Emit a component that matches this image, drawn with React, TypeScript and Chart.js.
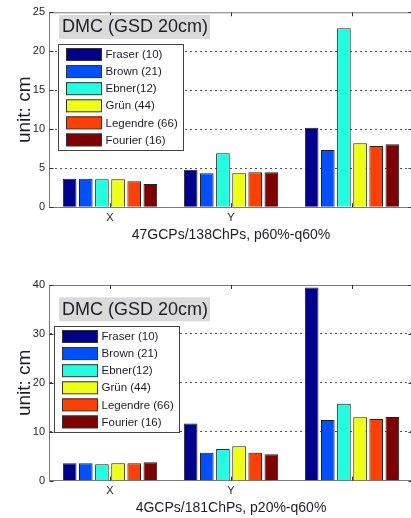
import React, { useEffect, useRef } from 'react';
import { Chart, registerables } from 'chart.js';

Chart.register(...registerables);

const categories = ['X', 'Y', ''];
const seriesLabels = ['Fraser (10)', 'Brown (21)', 'Ebner(12)', 'Grün (44)', 'Legendre (66)', 'Fourier (16)'];
const seriesColors = ['#00008F', '#0050FF', '#20FFDF', '#EFFF10', '#FF4000', '#800000'];

// Top panel: 47GCPs/138ChPs, p60%-q60%
const fraserTop = [3.67, 4.82, 10.2];
const brownTop = [3.67, 4.36, 7.35];
const ebnerTop = [3.59, 6.92, 22.95];
const grunTop = [3.59, 4.36, 8.2];
const legendreTop = [3.33, 4.49, 7.86];
const fourierTop = [2.99, 4.49, 8.08];

// Bottom panel: 4GCPs/181ChPs, p20%-q60%
const fraserBottom = [3.56, 11.7, 39.5];
const brownBottom = [3.56, 5.73, 12.4];
const ebnerBottom = [3.36, 6.48, 15.75];
const grunBottom = [3.56, 7.03, 12.96];
const legendreBottom = [3.56, 5.73, 12.6];
const fourierBottom = [3.76, 5.4, 13.0];

const topSeries = [fraserTop, brownTop, ebnerTop, grunTop, legendreTop, fourierTop];
const bottomSeries = [fraserBottom, brownBottom, ebnerBottom, grunBottom, legendreBottom, fourierBottom];

const topXTitle = '47GCPs/138ChPs, p60%-q60%';
const bottomXTitle = '4GCPs/181ChPs, p20%-q60%';
const yTitle = 'unit: cm';
const panelTitle = 'DMC (GSD 20cm)';

const FONT = "'Liberation Sans', Arial, sans-serif";
const AXIS_COLOR = '#7a7a7a';
const TEXT_COLOR = '#1e1e28';

type PanelProps = {
  series: number[][];
  yMax: number;
  yStep: number;
  xTitle: string;
  padTop: number;
  xAxisHeight: number;
  xTitlePadBottom: number;
  titleBox: { dx: number; dy: number };
  legendBox: { dx: number; dy: number };
};

const W = 425;
const H = 259;

function Panel(props: PanelProps) {
  const ref = useRef<HTMLCanvasElement | null>(null);
  useEffect(() => {
    const canvas = ref.current;
    if (!canvas) return;
    const overlay = {
      id: 'matlabOverlay',
      afterDraw(chart: any) {
        const { ctx, chartArea: a, scales } = chart;
        const y = scales.y;
        const x = scales.x;
        ctx.save();
        // frame top & right
        ctx.strokeStyle = AXIS_COLOR;
        ctx.lineWidth = 1;
        ctx.beginPath();
        ctx.moveTo(a.left, a.top + 0.5);
        ctx.lineTo(a.right, a.top + 0.5);
        ctx.moveTo(a.right - 0.5, a.top);
        ctx.lineTo(a.right - 0.5, a.bottom);
        ctx.stroke();
        // inward ticks
        ctx.strokeStyle = '#333';
        ctx.beginPath();
        y.ticks.forEach((t: any) => {
          const py = Math.round(y.getPixelForValue(t.value)) + 0.5;
          ctx.moveTo(a.left, py);
          ctx.lineTo(a.left + 4, py);
          ctx.moveTo(a.right, py);
          ctx.lineTo(a.right - 4, py);
        });
        x.ticks.forEach((_t: any, i: number) => {
          const px = Math.round(x.getPixelForTick(i)) + 0.5;
          ctx.moveTo(px, a.top);
          ctx.lineTo(px, a.top + 4);
          ctx.moveTo(px, a.bottom);
          ctx.lineTo(px, a.bottom - 4);
        });
        ctx.stroke();

        // title box
        const tx = a.left + props.titleBox.dx;
        const ty = a.top + props.titleBox.dy;
        ctx.fillStyle = '#dadada';
        ctx.fillRect(tx, ty, 151, 24);
        ctx.fillStyle = TEXT_COLOR;
        ctx.font = `18px ${FONT}`;
        ctx.textBaseline = 'middle';
        ctx.textAlign = 'left';
        ctx.fillText(panelTitle, tx + 3, ty + 12.5);

        // legend box
        const lx = a.left + props.legendBox.dx;
        const ly = a.top + props.legendBox.dy;
        ctx.fillStyle = '#ffffff';
        ctx.fillRect(lx, ly, 125, 106);
        ctx.strokeStyle = '#444';
        ctx.strokeRect(lx + 0.5, ly + 0.5, 125, 106);
        ctx.font = `11.5px ${FONT}`;
        chart.data.datasets.forEach((ds: any, i: number) => {
          const sy = ly + 4 + i * 17.1;
          ctx.fillStyle = ds.backgroundColor;
          ctx.fillRect(lx + 8, sy, 36, 12.5);
          ctx.strokeStyle = '#333';
          ctx.strokeRect(lx + 8.5, sy + 0.5, 35, 12);
          ctx.fillStyle = TEXT_COLOR;
          ctx.fillText(ds.label, lx + 47.5, sy + 7);
        });
        ctx.restore();
      },
    };

    const chart = new Chart(canvas, {
      type: 'bar',
      data: {
        labels: categories,
        datasets: props.series.map((vals, i) => ({
          label: seriesLabels[i],
          data: vals,
          backgroundColor: seriesColors[i],
          borderColor: '#222',
          borderWidth: 1,
          categoryPercentage: 0.8,
          barPercentage: 0.845,
        })),
      },
      options: {
        responsive: false,
        animation: false,
        events: [],
        layout: { padding: { top: props.padTop, right: W - 412.5, left: 0, bottom: 0 } },
        plugins: { legend: { display: false }, tooltip: { enabled: false }, title: { display: false } },
        scales: {
          x: {
            grid: { display: false, drawTicks: false },
            border: { display: true, color: AXIS_COLOR, width: 1 },
            ticks: { font: { family: FONT, size: 11 }, color: TEXT_COLOR, padding: 4 },
            title: {
              display: true,
              text: props.xTitle,
              font: { family: FONT, size: 14 },
              color: TEXT_COLOR,
              padding: { top: 0, bottom: props.xTitlePadBottom },
            },
            afterFit: (s: any) => {
              s.height = props.xAxisHeight;
            },
          },
          y: {
            min: 0,
            max: props.yMax,
            grid: {
              drawTicks: false,
              color: (c: any) =>
                c.tick && (c.tick.value === 0 || c.tick.value === props.yMax) ? 'rgba(0,0,0,0)' : '#555',
            },
            border: { display: true, color: AXIS_COLOR, width: 1, dash: [2, 3] },
            ticks: { stepSize: props.yStep, font: { family: FONT, size: 11 }, color: TEXT_COLOR, padding: 4.5 },
            title: {
              display: true,
              text: yTitle,
              font: { family: FONT, size: 19 },
              color: TEXT_COLOR,
              padding: { top: 13, bottom: 0 },
            },
            afterFit: (s: any) => {
              s.width = 49.5;
            },
          },
        },
      },
      plugins: [overlay],
    } as any);
    return () => chart.destroy();
  }, []);
  return <canvas ref={ref} width={W} height={H} style={{ display: 'block', width: W, height: H }} />;
}

export default function App() {
  return (
    <div
      style={{
        position: 'absolute',
        left: 0,
        top: 0,
        width: 411,
        height: 518,
        overflow: 'hidden',
        background: '#ffffff',
      }}
    >
      <Panel
        series={topSeries}
        yMax={25}
        yStep={5}
        xTitle={topXTitle}
        padTop={12.3}
        xAxisHeight={51.7}
        xTitlePadBottom={15.6}
        titleBox={{ dx: 9.5, dy: 2.7 }}
        legendBox={{ dx: 8.5, dy: 31.7 }}
      />
      <Panel
        series={bottomSeries}
        yMax={40}
        yStep={10}
        xTitle={bottomXTitle}
        padTop={26}
        xAxisHeight={37.3}
        xTitlePadBottom={1}
        titleBox={{ dx: 9.5, dy: 12.3 }}
        legendBox={{ dx: 4.5, dy: 41 }}
      />
    </div>
  );
}
